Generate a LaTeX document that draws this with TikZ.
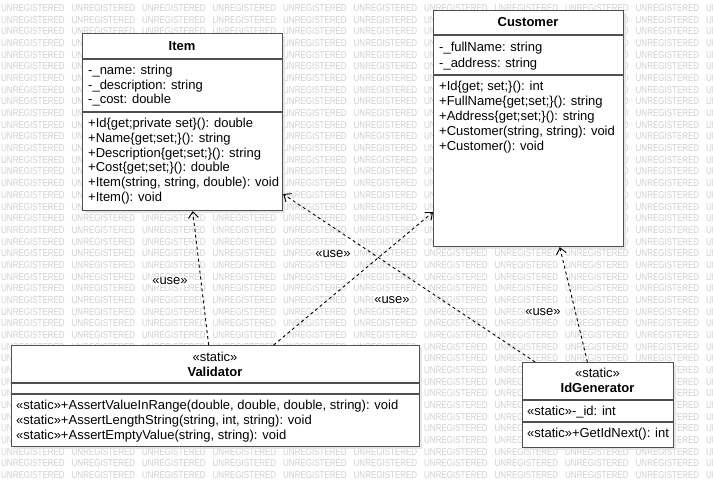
\documentclass[tikz,border=0pt]{standalone}
\usepackage{fontspec}
\setmainfont{Liberation Sans}
\usetikzlibrary{arrows.meta,calc}
\definecolor{wm}{HTML}{D0D0D0}
\definecolor{bord}{HTML}{505050}
\begin{document}
\begin{tikzpicture}[x=1pt,y=-1pt,
  wmtext/.style={anchor=west,inner sep=0,text=wm,font=\fontsize{10}{12}\selectfont},
  umlbox/.style={draw=bord,line width=1.2pt,fill=white,inner sep=0,anchor=north west},
  shadowbox/.style={fill=black!10,draw=none,inner sep=0,anchor=north west},
  member/.style={anchor=base west,inner sep=0,font=\fontsize{13}{15}\selectfont},
  title/.style={anchor=base,inner sep=0,font=\fontsize{13}{15}\selectfont\bfseries},
  stereo/.style={anchor=base,inner sep=0,font=\fontsize{13}{15}\selectfont},
  sep/.style={draw=bord,line width=1.2pt},
  dep/.style={draw=black,line width=0.9pt,dash pattern=on 3pt off 3pt,-{Straight Barb[length=6pt,width=10pt]}},
  uselabel/.style={fill=white,inner sep=0.5pt,font=\fontsize{13}{15}\selectfont}
]
\useasboundingbox[fill=white] (0,0) rectangle (713,487);
% watermark (cells fully hidden under a box are left out)
\begin{scope}
\clip (0,0) rectangle (713,487);
\foreach \r in {0,...,40}{
  \foreach \c in {0,...,10}{
    \pgfmathsetmacro\wx{\c*70.5+1}
    \pgfmathsetmacro\wy{8+\r*11.68}
    \pgfmathtruncatemacro\hid{((\wx>=82)&&(\wx+64<=282)&&(\wy-4>=33)&&(\wy+4<=210)) || ((\wx>=433)&&(\wx+64<=623)&&(\wy-4>=10)&&(\wy+4<=246)) || ((\wx>=11)&&(\wx+64<=419)&&(\wy-4>=345)&&(\wy+4<=446)) || ((\wx>=522)&&(\wx+64<=673)&&(\wy-4>=362)&&(\wy+4<=447))}
    \ifnum\hid=0
      \node[wmtext] (wm-\r-\c) at (\wx, \wy) {\scalebox{0.8}[1]{UNREGISTERED}};
    \fi
  }
}
\end{scope}
% shadows
\node[shadowbox,minimum width=200pt,minimum height=177pt] (item-sh) at (85,36) {};
\node[shadowbox,minimum width=190pt,minimum height=236pt] (cust-sh) at (436,13) {};
\node[shadowbox,minimum width=408pt,minimum height=101pt] (val-sh) at (14,348) {};
\node[shadowbox,minimum width=151pt,minimum height=85pt] (idg-sh) at (525,365) {};
% boxes
\node[umlbox,minimum width=200pt,minimum height=177pt] (item) at (82,33) {};
\node[umlbox,minimum width=190pt,minimum height=236pt] (cust) at (433,10) {};
\node[umlbox,minimum width=408pt,minimum height=101pt] (val) at (11,345) {};
\node[umlbox,minimum width=151pt,minimum height=85pt] (idg) at (522,362) {};
% separators
\draw[sep] ($(item.north west)+(0,26)$) -- ($(item.north east)+(0,26)$);
\draw[sep] ($(item.north west)+(0,79)$) -- ($(item.north east)+(0,79)$);
\draw[sep] ($(cust.north west)+(0,25)$) -- ($(cust.north east)+(0,25)$);
\draw[sep] ($(cust.north west)+(0,65)$) -- ($(cust.north east)+(0,65)$);
\draw[sep] ($(val.north west)+(0,38)$) -- ($(val.north east)+(0,38)$);
\draw[sep] ($(val.north west)+(0,49)$) -- ($(val.north east)+(0,49)$);
\draw[sep] ($(idg.north west)+(0,38)$) -- ($(idg.north east)+(0,38)$);
\draw[sep] ($(idg.north west)+(0,60)$) -- ($(idg.north east)+(0,60)$);
% Item
\node[title] (item-t) at (182,50.5) {Item};
\node[member] (item-a1) at (88,74.5) {-\_name: string};
\node[member] (item-a2) at (88,89) {-\_description: string};
\node[member] (item-a3) at (88,104) {-\_cost: double};
\node[member] (item-m1) at (88,127.5) {+Id\{get;private set\}(): double};
\node[member] (item-m2) at (88,142.3) {+Name\{get;set;\}(): string};
\node[member] (item-m3) at (88,157.1) {+Description\{get;set;\}(): string};
\node[member] (item-m4) at (88,171.9) {+Cost\{get;set;\}(): double};
\node[member] (item-m5) at (88,186.7) {+Item(string, string, double): void};
\node[member] (item-m6) at (88,201.5) {+Item(): void};
% Customer
\node[title] (cust-t) at (528,26.5) {Customer};
\node[member] (cust-a1) at (439,51.8) {-\_fullName: string};
\node[member] (cust-a2) at (439,67.2) {-\_address: string};
\node[member] (cust-m1) at (439,90.5) {+Id\{get; set;\}(): int};
\node[member] (cust-m2) at (439,105.4) {+FullName\{get;set;\}(): string};
\node[member] (cust-m3) at (439,120.3) {+Address\{get;set;\}(): string};
\node[member] (cust-m4) at (439,135.2) {+Customer(string, string): void};
\node[member] (cust-m5) at (439,150.1) {+Customer(): void};
% Validator
\node[stereo] (val-s) at (215,361.5) {«static»};
\node[title] (val-t) at (215,376.5) {Validator};
\node[member] (val-m1) at (16,409.5) {«static»+AssertValueInRange(double, double, double, string): void};
\node[member] (val-m2) at (16,424.5) {«static»+AssertLengthString(string, int, string): void};
\node[member] (val-m3) at (16,439.5) {«static»+AssertEmptyValue(string, string): void};
% IdGenerator
\node[stereo] (idg-s) at (597.5,377.5) {«static»};
\node[title] (idg-t) at (597.5,392.5) {IdGenerator};
\node[member] (idg-a1) at (527,415.5) {«static»-\_id: int};
\node[member] (idg-m1) at (527,437.5) {«static»+GetIdNext(): int};
% connectors
\draw[dep] ($(val.north west)!0.483!(val.north east)$) -- ($(item.south west)!0.55!(item.south east)$);
\draw[dep] ($(val.north west)!0.642!(val.north east)$) -- ($(cust.north west)!0.852!(cust.south west)$);
\draw[dep] ($(idg.north west)!0.086!(idg.north east)$) -- ($(item.north east)!0.904!(item.south east)$);
\draw[dep] ($(idg.north west)!0.43!(idg.north east)$) -- ($(cust.south west)!0.663!(cust.south east)$);
% labels
\node[uselabel] (u1) at (170,281) {«use»};
\node[uselabel] (u2) at (333,254) {«use»};
\node[uselabel] (u3) at (392,300) {«use»};
\node[uselabel] (u4) at (543,312) {«use»};
\end{tikzpicture}
\end{document}
